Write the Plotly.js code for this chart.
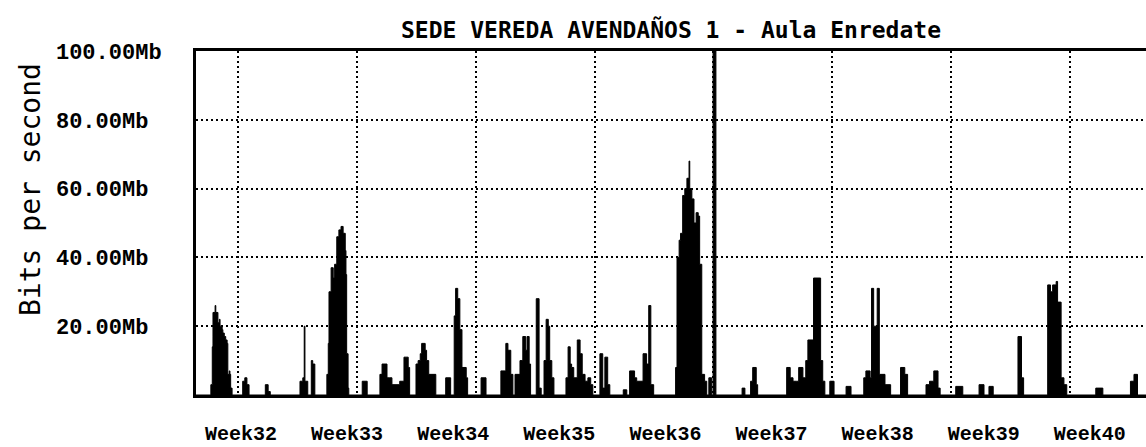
<!DOCTYPE html>
<html>
<head>
<meta charset="utf-8">
<script src="https://cdn.plot.ly/plotly-3.0.1.min.js"></script>
<style>html,body{margin:0;padding:0;background:#fff;}#chart{width:1146px;height:447px;}</style>
</head>
<body>
<div id="chart"></div>
<script>
// Time in hours from the left edge of the graph, traffic in Mb/s
const hours = [0,
 21,23,24,27,28,31,33,34,37,38,40,42,44,45,47,48,49,51,
 66,69,72,75,
 98,102,105,
 147,151,153,154,158,163,165,168,
 185,187,188,191,194,196,199,202,205,208,211,212,213,215,216,
 235,242,
 260,263,270,274,277,288,294,300,302,311,314,317,319,324,326,329,339,
 353,360,365,367,370,373,376,382,384,
 403,410,
 431,438,441,445,448,
 451,458,462,466,468,471,473,
 481,485,488,
 492,495,498,500,503,506,
 523,526,529,531,534,539,543,546,550,554,558,561,
 571,575,578,582,585,
 604,609,
 613,620,623,629,632,637,640,643,647,
 678,680,683,685,688,691,694,697,698,701,704,707,710,712,715,719,722,
 725,729,731,735,
 772,776,784,787,792,794,
 835,840,844,849,852,858,862,865,873,883,886,889,
 896,902,
 919,926,
 944,947,953,955,958,963,966,974,982,
 996,1002,1006,
 1032,1037,1043,1049,1052,
 1074,1084,1107,1114,1121,1127,
 1162,1167,1170,
 1204,1208,1211,1216,1218,1223,1227,1231,
 1272,1282,1321,1326,1331,
 1343];
const mbps = [0,
 3,14,24,26,24,21,22,20,19,18,17,16,15,6,7,6,2,0,
 4,5,3,0,
 3,1,0,
 4,5,20,4,0,10,9,0,
 6,15,30,37,34,38,46,48,49,47,42,35,12,2,0,
 4,0,
 6,9,5,5,3,4,11,8,0,9,10,12,15,13,10,6,0,
 5,0,23,31,28,19,8,5,0,
 5,0,
 7,15,13,6,0,
 6,10,17,13,17,9,0,
 28,2,0,
 10,22,20,10,5,0,
 5,14,9,8,5,16,12,6,4,5,3,0,
 12,2,11,3,0,
 1.5,0,
 7,5,4,4,12,9,26,3,0,
 8,40,45,47,58,60,63,68,60,57,50,53,52,38,6,4,0,
 5,0,100,0,
 2,0,4,8,3,0,
 8,5,4,4,8,5,10,16,34,10,4,0,
 4,0,
 2.5,0,
 5,7,5,31,20,31,6,3,0,
 8,6,0,
 3,4,7,2,0,
 2.5,0,3,0,2.5,0,
 17,5,0,
 32,30,32,33,27,5,3,0,
 2,0,4,6,0,
 0];

const weekLabels = ["Week32","Week33","Week34","Week35","Week36","Week37","Week38","Week39","Week40"];
const yTickVals = [20, 40, 60, 80, 100];
const yTickText = ["20.00Mb\u00a0", "40.00Mb\u00a0", "60.00Mb\u00a0", "80.00Mb\u00a0", "100.00Mb"];

const titleText = "SEDE VEREDA AVENDAÑOS 1 - Aula Enredate";
const yTitle = "Bits per second";

// layout helpers (axis geometry)
const hoursPerWeek = 168;
const firstGridHour = 59.4;
const firstLabelHour = 63.6;
const labelSpacing = 150;
const labelPos = weekLabels.map((_, i) => firstLabelHour + i * labelSpacing);
const xRange = [0, 1343];

const trace = {
  type: 'scatter', mode: 'lines',
  x: hours, y: mbps,
  line: {color: '#000', width: 1, shape: 'hv'},
  fill: 'tozeroy', fillcolor: '#000',
  hoverinfo: 'skip', showlegend: false
};

const tickFont = {family: 'Liberation Mono, DejaVu Sans Mono, monospace', size: 22, color: '#000', weight: 'bold'};

const layout = {
  width: 1146, height: 447,
  margin: {l: 196, r: 0, t: 51, b: 52, pad: 0},
  paper_bgcolor: '#fff', plot_bgcolor: '#fff',
  showlegend: false,
  title: {
    text: titleText,
    font: {family: 'DejaVu Sans Mono, monospace', size: 23, color: '#000', weight: 'bold'},
    x: 0.5, xref: 'paper', xanchor: 'center',
    y: 1 - 30/447, yref: 'container', yanchor: 'middle'
  },
  xaxis: {
    range: xRange, fixedrange: true,
    tickmode: 'array', tickvals: labelPos, ticktext: weekLabels,
    showgrid: false, zeroline: false,
    ticks: '', ticklabelstandoff: 18,
    tickfont: {family: 'Liberation Mono, DejaVu Sans Mono, monospace', size: 20, color: '#000', weight: 'bold'},
    showline: true, linecolor: '#000', linewidth: 3, mirror: true
  },
  xaxis2: {
    overlaying: 'x', range: xRange, fixedrange: true,
    tickmode: 'linear', tick0: firstGridHour, dtick: hoursPerWeek,
    showticklabels: false, ticks: '',
    showgrid: true, gridcolor: '#000', gridwidth: 2, griddash: '2px,3px',
    zeroline: false, showline: false
  },
  yaxis: {
    range: [0, 100], fixedrange: true,
    tickmode: 'array', tickvals: yTickVals, ticktext: yTickText,
    tickfont: tickFont,
    ticks: '', ticklabelstandoff: 27,
    showgrid: true, gridcolor: '#000', gridwidth: 2, griddash: '2px,3px',
    zeroline: false,
    showline: true, linecolor: '#000', linewidth: 3
  },
  annotations: [{
    text: yTitle, textangle: -90,
    xref: 'paper', yref: 'paper',
    x: (30 - 196) / 950, y: (395 - 190) / 344,
    xanchor: 'center', yanchor: 'middle', showarrow: false,
    font: {family: 'DejaVu Sans Mono, monospace', size: 28, color: '#000'}
  }]
};

// dummy trace on xaxis2 so that its grid is drawn
const gridTrace = {type: 'scatter', mode: 'none', x: xRange, y: [0, 0], xaxis: 'x2', yaxis: 'y', hoverinfo: 'skip', showlegend: false};

Plotly.newPlot('chart', [gridTrace, trace], layout, {staticPlot: true, displayModeBar: false});
</script>
</body>
</html>
